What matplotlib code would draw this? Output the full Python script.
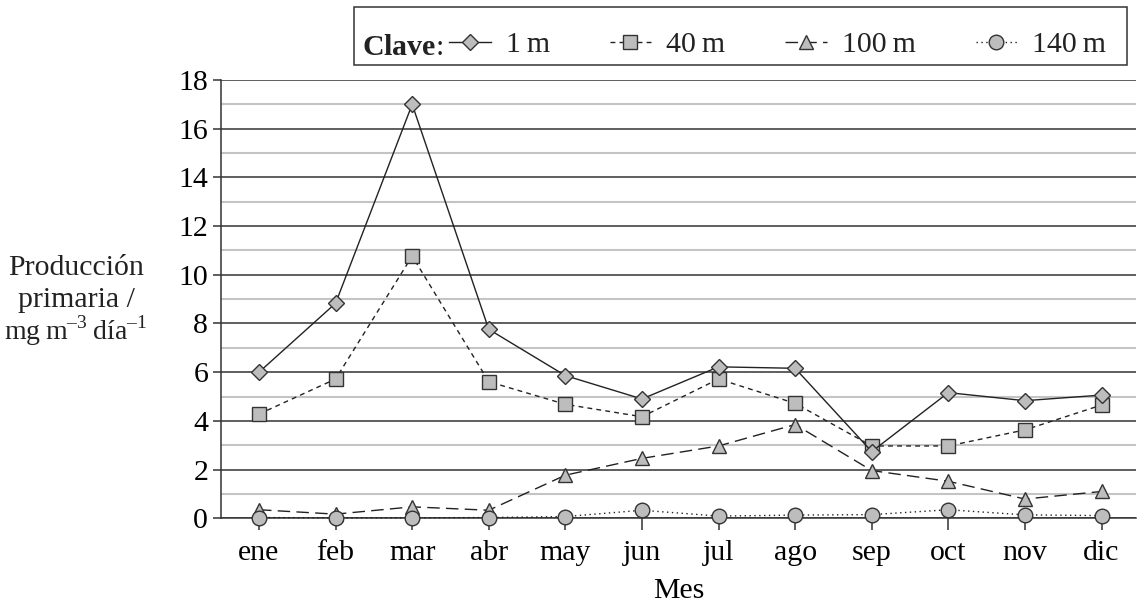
import numpy as np
import matplotlib.pyplot as plt
from matplotlib.patches import Rectangle

# --- Fonts: Times-like serif everywhere, including math superscripts ---
plt.rcParams['font.family'] = 'Liberation Serif'
plt.rcParams['mathtext.fontset'] = 'custom'
plt.rcParams['mathtext.rm'] = 'Liberation Serif'
plt.rcParams['mathtext.bf'] = 'Liberation Serif:bold'
plt.rcParams['font.size'] = 21.5
plt.rcParams['text.color'] = '#222222'

# --- Data ---
months = ['ene', 'feb', 'mar', 'abr', 'may', 'jun', 'jul', 'ago', 'sep', 'oct', 'nov', 'dic']
prod_1m = [6.0, 8.83, 17.0, 7.76, 5.86, 4.9, 6.22, 6.16, 2.74, 5.16, 4.83, 5.06]
prod_40m = [4.28, 5.72, 10.77, 5.61, 4.68, 4.17, 5.72, 4.72, 2.97, 2.97, 3.63, 4.65]
prod_100m = [0.35, 0.17, 0.47, 0.33, 1.77, 2.46, 2.97, 3.85, 1.96, 1.52, 0.79, 1.1]
prod_140m = [0.03, 0.02, 0.02, 0.03, 0.07, 0.33, 0.09, 0.13, 0.15, 0.35, 0.14, 0.11]
depth_labels = ['1\u2009m', '40\u2009m', '100\u2009m', '140\u2009m']

edge = '#333333'
face = '#bdbdbd'
line_col = '#222222'

fig = plt.figure(figsize=(11.37, 6.03), dpi=100)
ax = fig.add_axes([0.1941, 0.1405, 0.8050, 0.7268])

x = np.arange(len(months))
common = dict(color=line_col, lw=1.0, mfc=face, mec=edge, mew=1.0, clip_on=False)

l40, = ax.plot(x, prod_40m, linestyle=(0, (3.5, 3)), marker='s', ms=10,
               label=depth_labels[1], zorder=3, **common)
l1, = ax.plot(x, prod_1m, linestyle='-', marker='D', ms=8.2,
              label=depth_labels[0], zorder=4, **common)
l100, = ax.plot(x, prod_100m, linestyle=(0, (9, 4.5)), marker='^', ms=10.5,
                label=depth_labels[2], zorder=3, **common)
l140, = ax.plot(x, prod_140m, linestyle=(0, (1, 2.5)), marker='o', ms=10.5,
                label=depth_labels[3], zorder=4, **common)

# --- Axes formatting ---
ax.set_xlim(-0.5, 11.45)
ax.set_ylim(0, 18)
ax.set_xticks(x)
ax.set_xticklabels(months)
ax.set_yticks(range(0, 19, 2))
ax.set_yticks(range(1, 18, 2), minor=True)
ax.set_axisbelow(True)
ax.yaxis.grid(True, which='major', color='#333333', lw=1.1)
ax.yaxis.grid(True, which='minor', color='#c4c4c4', lw=1.5)
ax.tick_params(axis='y', which='major', direction='out', length=6, width=1.1, pad=3, color='#333333')
ax.tick_params(axis='y', which='minor', length=0)
ax.tick_params(axis='x', direction='out', length=8.6, width=1.1, pad=7, color='#333333')
for s in ['top', 'right']:
    ax.spines[s].set_visible(False)
for s in ['left', 'bottom']:
    ax.spines[s].set_color('#333333')
    ax.spines[s].set_linewidth(1.1)

ax.set_xlabel('Mes', labelpad=9)

# y label: three horizontal lines at the left
fig.text(76 / 1137, 1 - 275 / 603, 'Producción', ha='center', va='baseline')
fig.text(76 / 1137, 1 - 307 / 603, 'primaria /', ha='center', va='baseline')
fig.text(76 / 1137, 1 - 340 / 603, 'mg\u2009m$^{\u20133}$\u2009día$^{\u20131}$',
         ha='center', va='baseline', fontsize=20)

# --- Legend box ("Clave") at the top ---
fig.patches.append(Rectangle((354 / 1137, 1 - 65 / 603), (1127 - 354) / 1137, 58 / 603,
                             transform=fig.transFigure, fill=False, ec='#333333', lw=1.1))
fig.text(362 / 1137, 1 - 55 / 603, r'$\mathbf{Clave}$:', ha='left', va='baseline')
fig.legend([l1, l40, l100, l140], depth_labels, loc='center left',
           bbox_to_anchor=(449 / 1137, 1 - 45 / 603), bbox_transform=fig.transFigure,
           ncol=4, frameon=False, borderpad=0, borderaxespad=0, numpoints=1,
           handlelength=1.4, handletextpad=0.5, columnspacing=2.0)

plt.savefig('out.png', dpi=100)
